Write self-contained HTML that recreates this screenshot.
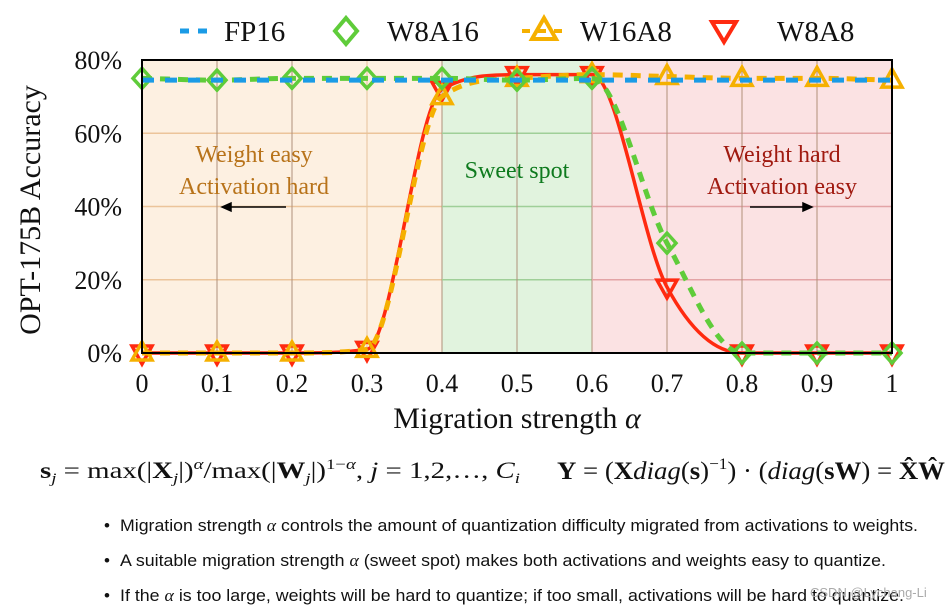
<!DOCTYPE html>
<html><head><meta charset="utf-8"><style>
body{margin:0;background:#fff;width:952px;height:611px;overflow:hidden;font-family:"Liberation Serif",serif}
svg{display:block}
.b{font-family:"Liberation Sans",sans-serif;font-size:17px;fill:#111}
</style></head><body>
<svg width="952" height="611">
<g id="bg"></g><g id="grid"></g><g id="series"></g><g id="axes"></g>
<g font-size="29" fill="#111">
 <line x1="180" y1="31" x2="214" y2="31" stroke="#1a9be6" stroke-width="5" stroke-dasharray="9,9"/>
 <text x="224" y="41">FP16</text>
 <polygon points="346,18 357,31 346,44 335,31" fill="none" stroke="#5fcc3a" stroke-width="4"/>
 <text x="387" y="41">W8A16</text>
 <polygon points="544,18 556,39 532,39" fill="none" stroke="#f5b000" stroke-width="4"/>
 <line x1="522" y1="31" x2="566" y2="31" stroke="#f5b000" stroke-width="4" stroke-dasharray="8,8"/>
 <text x="580" y="41">W16A8</text>
 <polygon points="724,42 736,22 712,22" fill="none" stroke="#ff2a10" stroke-width="4"/>
 <text x="777" y="41">W8A8</text>
</g>
<text transform="translate(40,210) rotate(-90)" text-anchor="middle" font-size="30" fill="#111">OPT-175B Accuracy</text>
<text x="517" y="428" text-anchor="middle" font-size="30" fill="#111">Migration strength <tspan font-style="italic">α</tspan></text>
<g font-size="24">
<text x="254" y="162" text-anchor="middle" fill="#b8731a">Weight easy</text>
<text x="254" y="194" text-anchor="middle" fill="#b8731a">Activation hard</text>
<text x="517" y="178" text-anchor="middle" fill="#0e7a1e">Sweet spot</text>
<text x="782" y="162" text-anchor="middle" fill="#a01a10">Weight hard</text>
<text x="782" y="194" text-anchor="middle" fill="#a01a10">Activation easy</text>
</g>
<g stroke="#000" stroke-width="1.5">
<line x1="286" y1="207" x2="228" y2="207"/><polygon points="222,207 231,203 231,211" fill="#000"/>
<line x1="750" y1="207" x2="806" y2="207"/><polygon points="812,207 803,203 803,211" fill="#000"/>
</g>
<text x="40" y="478" font-size="23" fill="#111" textLength="480" lengthAdjust="spacingAndGlyphs"><tspan font-weight="bold">s</tspan><tspan font-style="italic" font-size="15" dy="5">j</tspan><tspan dy="-5"> = max(|</tspan><tspan font-weight="bold">X</tspan><tspan font-style="italic" font-size="15" dy="5">j</tspan><tspan dy="-5">|)</tspan><tspan font-style="italic" font-size="15" dy="-9">α</tspan><tspan dy="9">/max(|</tspan><tspan font-weight="bold">W</tspan><tspan font-style="italic" font-size="15" dy="5">j</tspan><tspan dy="-5">|)</tspan><tspan font-size="15" dy="-9">1−<tspan font-style="italic">α</tspan></tspan><tspan dy="9">, <tspan font-style="italic">j</tspan> = 1,2,…, <tspan font-style="italic">C</tspan></tspan><tspan font-style="italic" font-size="15" dy="5">i</tspan></text>
<text x="557" y="479" font-size="25" fill="#111" textLength="388" lengthAdjust="spacingAndGlyphs"><tspan font-weight="bold">Y</tspan> = (<tspan font-weight="bold">X</tspan><tspan font-style="italic">diag</tspan>(<tspan font-weight="bold">s</tspan>)<tspan font-size="16" dy="-10">−1</tspan><tspan dy="10">) · (</tspan><tspan font-style="italic">diag</tspan>(<tspan font-weight="bold">s</tspan><tspan font-weight="bold">W</tspan>) = <tspan font-weight="bold">X̂Ŵ</tspan></text>
<g>
<text class="b" x="104" y="531">•</text><text class="b" x="120" y="531" textLength="798" lengthAdjust="spacingAndGlyphs">Migration strength <tspan font-style="italic" font-family="Liberation Serif">α</tspan> controls the amount of quantization difficulty migrated from activations to weights.</text>
<text class="b" x="104" y="566">•</text><text class="b" x="120" y="566" textLength="766" lengthAdjust="spacingAndGlyphs">A suitable migration strength <tspan font-style="italic" font-family="Liberation Serif">α</tspan> (sweet spot) makes both activations and weights easy to quantize.</text>
<text class="b" x="104" y="601">•</text><text class="b" x="120" y="601" textLength="784" lengthAdjust="spacingAndGlyphs">If the <tspan font-style="italic" font-family="Liberation Serif">α</tspan> is too large, weights will be hard to quantize; if too small, activations will be hard to quantize.</text>
</g>
<text x="810" y="597" font-family="Liberation Sans" font-size="13" fill="#aaa">CSDN @Lychang-Li</text>
</svg>
<script>
const alphas=[0,0.1,0.2,0.3,0.4,0.5,0.6,0.7,0.8,0.9,1];
const fp16=[74.5,74.5,74.5,74.5,74.5,74.5,74.5,74.5,74.5,74.5,74.5];
const w8a16=[75,74.5,75,75,75,74.5,75,30,0,0,0];
const w16a8=[0,0,0,1,70,75,76,75.5,75,75,74.5];
const w8a8=[0,0,0,1,72,76,76,18,0,0,0];
const yTicks=[0,20,40,60,80];
const xTickLabels=["0","0.1","0.2","0.3","0.4","0.5","0.6","0.7","0.8","0.9","1"];
const regions=[[0,0.4,"#fdf0e1","#ecc49a"],[0.4,0.6,"#e1f3de","#9fcf98"],[0.6,1,"#fbe2e3","#e3a4a6"]];
const L=142,R=892,T=60,B=353;
const X=a=>L+(R-L)*a, Y=v=>B-(B-T)*v/80;
const NS="http://www.w3.org/2000/svg";
function mk(t,at,p){const e=document.createElementNS(NS,t);for(const k in at)e.setAttribute(k,at[k]);p.appendChild(e);return e;}
const bg=document.getElementById('bg'),grid=document.getElementById('grid'),ser=document.getElementById('series'),ax=document.getElementById('axes');
regions.forEach(r=>{const e=mk('rect',{x:X(r[0]),y:T,width:X(r[1])-X(r[0]),height:B-T,fill:r[2]},bg);


yTicks.forEach(v=>{if(v>0&&v<80){const g=mk('line',{x1:X(r[0]),x2:X(r[1]),y1:Y(v),y2:Y(v),stroke:r[3],'stroke-width':1.5},grid);

}});
alphas.forEach(a=>{if(a>r[0]&&a<=r[1]&&a<1){const g=mk('line',{x1:X(a),x2:X(a),y1:T,y2:B,stroke:a===0.3?"#e6c29a":"#b0907a",'stroke-width':1},grid);

}});
});
const fr=mk('rect',{x:L,y:T,width:R-L,height:B-T,fill:'none',stroke:'#000','stroke-width':2},ax);


yTicks.forEach(v=>{const t=mk('text',{x:L-20,y:Y(v)+9,'text-anchor':'end','font-size':26,fill:'#111'},ax);t.textContent=v+'%';

});
alphas.forEach((a,i)=>{const t=mk('text',{x:X(a),y:392,'text-anchor':'middle','font-size':26,fill:'#111'},ax);t.textContent=xTickLabels[i];

});
function pathD(vals){const p=alphas.map((a,i)=>[X(a),Y(vals[i])]);const n=p.length;
const dl=[],m=[];for(let i=0;i<n-1;i++)dl.push((p[i+1][1]-p[i][1])/(p[i+1][0]-p[i][0]));
m[0]=dl[0];m[n-1]=dl[n-2];
for(let i=1;i<n-1;i++){m[i]=(dl[i-1]*dl[i]<=0)?0:(dl[i-1]+dl[i])/2;}
for(let i=0;i<n-1;i++){if(dl[i]===0){m[i]=0;m[i+1]=0;continue;}const a=m[i]/dl[i],b=m[i+1]/dl[i],s=a*a+b*b;if(s>9){const t=3/Math.sqrt(s);m[i]=t*a*dl[i];m[i+1]=t*b*dl[i];}}
let d='M'+p[0][0]+','+p[0][1];
for(let i=0;i<n-1;i++){const h=(p[i+1][0]-p[i][0])/3;
d+=` C${p[i][0]+h},${p[i][1]+m[i]*h} ${p[i+1][0]-h},${p[i+1][1]-m[i+1]*h} ${p[i+1][0]},${p[i+1][1]}`;}return d;}
function line(vals,col,dash,w,name){const e=mk('path',{d:pathD(vals),fill:'none',stroke:col,'stroke-width':w,'stroke-dasharray':dash},ser);

}
function markers(vals,shape,col,name){vals.forEach((v,i)=>{const x=X(alphas[i]),y=Y(v);let pts;
if(shape==='d')pts=[[x,y-10],[x+9,y],[x,y+10],[x-9,y]];else if(shape==='u')pts=[[x,y-11],[x+10,y+7],[x-10,y+7]];else pts=[[x,y+11],[x+10,y-7],[x-10,y-7]];
const e=mk('polygon',{points:pts.map(q=>q.join(',')).join(' '),fill:'none',stroke:col,'stroke-width':3.5},ser);

});}
line(w8a8,'#ff2a10','',3.5,'line-w8a8');
markers(w8a8,'v','#ff2a10','marker-w8a8');
line(w16a8,'#f5b000','10,8',5,'line-w16a8');
markers(w16a8,'u','#f5b000','marker-w16a8');
line(w8a16,'#5fcc3a','10,8',5,'line-w8a16');
markers(w8a16,'d','#5fcc3a','marker-w8a16');
line(fp16,'#1a9be6','12,11',5,'line-fp16');
</script>
</body></html>
